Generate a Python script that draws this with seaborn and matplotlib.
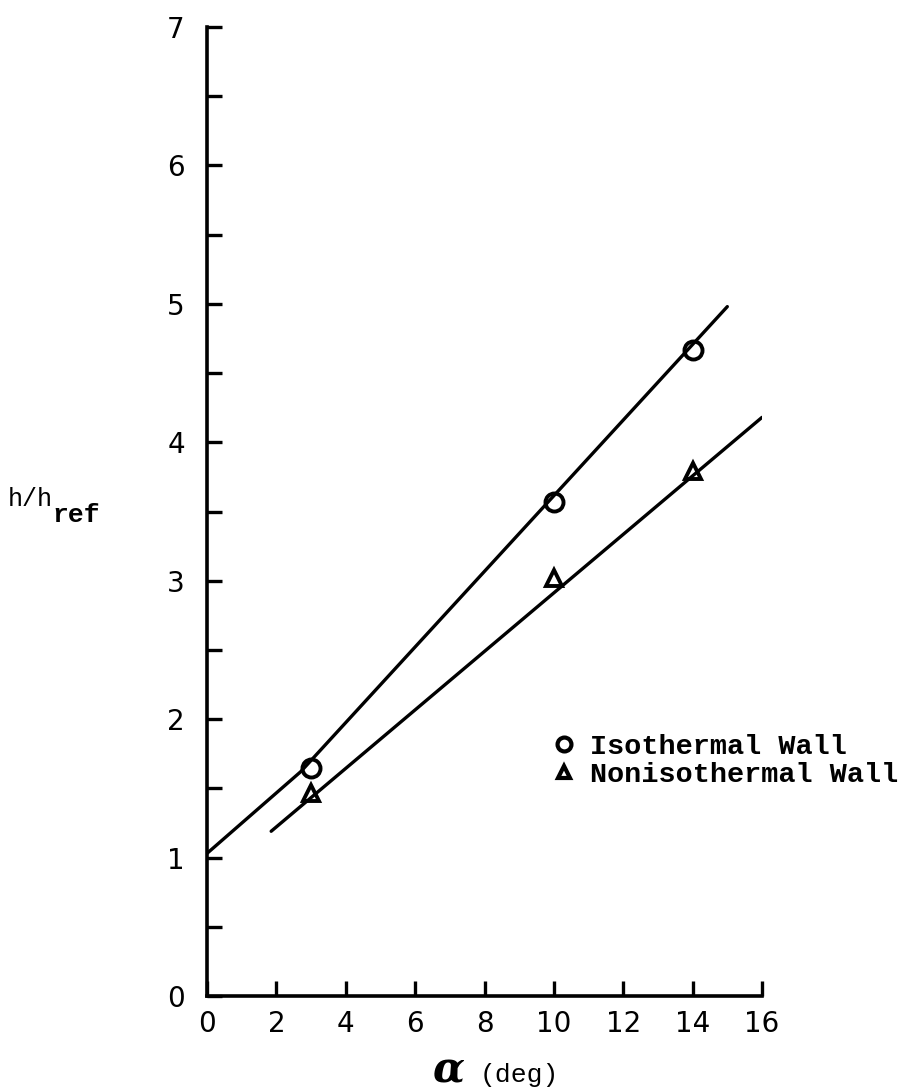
import numpy as np
import pandas as pd
import matplotlib
matplotlib.use("Agg")
import matplotlib.pyplot as plt
from matplotlib.lines import Line2D
import seaborn as sns

# Measured points
alpha_deg = [3, 10, 14]
iso_h = [1.65, 3.57, 4.67]
noniso_h = [1.47, 3.02, 3.79]

# Hand-fit lines through the points
iso_fit_x = [0.0, 2.7, 15.0]
iso_fit_y = [1.03, 1.62, 4.98]
noniso_fit_x = [1.85, 16.0]
noniso_fit_y = [1.19, 4.18]

wall_labels = ["Isothermal Wall", "Nonisothermal Wall"]

pts = pd.DataFrame({
    "alpha": alpha_deg * 2,
    "h": iso_h + noniso_h,
    "wall": [wall_labels[0]] * 3 + [wall_labels[1]] * 3,
})
fits = pd.DataFrame({
    "alpha": iso_fit_x + noniso_fit_x,
    "h": iso_fit_y + noniso_fit_y,
    "wall": [wall_labels[0]] * len(iso_fit_x) + [wall_labels[1]] * len(noniso_fit_x),
})

sns.set_style("ticks")
plt.rcParams["font.family"] = ["DejaVu Sans"]
plt.rcParams["text.color"] = "black"
plt.rcParams["xtick.labelcolor"] = "black"
plt.rcParams["ytick.labelcolor"] = "black"

fig = plt.figure(figsize=(9.19, 10.92), dpi=100)
ax = fig.add_axes([207 / 919, 1 - 996 / 1092, (762 - 207) / 919, (996 - 27) / 1092])

sns.lineplot(data=fits, x="alpha", y="h", units="wall", estimator=None, sort=False,
             color="black", linewidth=2.4, ax=ax, legend=False)

markers = {"Isothermal Wall": "o", "Nonisothermal Wall": "^"}
for name, m in markers.items():
    sub = pts[pts["wall"] == name]
    ax.plot(sub["alpha"], sub["h"], linestyle="none", marker=m, markersize=13 if m == "o" else 11,
            markerfacecolor="none", markeredgecolor="black", markeredgewidth=2.8)

ax.set_xlim(0, 16)
ax.set_ylim(0, 7)
ax.set_xticks(np.arange(0, 17, 2))
ax.set_yticks(np.arange(0, 8, 1))
ax.set_yticks(np.arange(0.5, 7, 1), minor=True)

for s in ["top", "right"]:
    ax.spines[s].set_visible(False)
for s in ["left", "bottom"]:
    ax.spines[s].set_linewidth(2.6)
    ax.spines[s].set_color("black")

ax.tick_params(axis="both", which="both", direction="in", width=2.4, color="black",
               labelcolor="black")
ax.tick_params(axis="y", which="both", length=11, pad=16, labelsize=20)
ax.tick_params(axis="x", which="major", length=10.5, pad=10, labelsize=20)
ax.set_xlabel("")
ax.set_ylabel("")

mono = "Liberation Mono"
# y label
fig.text(8 / 919, 1 - 506 / 1092, "h/h", fontsize=18, family=mono, va="baseline")
fig.text(52 / 919, 1 - 522 / 1092, "ref", fontsize=19, family=mono, weight="bold", va="baseline")

# x label
fig.text(448 / 919, 1 - 1082 / 1092, "\u03b1", fontsize=30, va="baseline", ha="center",
         family="DejaVu Serif", style="italic", weight="bold")
fig.text(480 / 919, 1 - 1082 / 1092, "(deg)", fontsize=19, family=mono, va="baseline")

handles = [Line2D([], [], linestyle="none", marker=markers[n], markerfacecolor="none",
                  markeredgecolor="black", markeredgewidth=3,
                  markersize=10 if markers[n] == "o" else 9) for n in wall_labels]
ax.legend(handles, wall_labels, loc="upper left", bbox_to_anchor=(553 / 919, 1 - 734 / 1092),
          bbox_transform=fig.transFigure, frameon=False, handlelength=0.8, handletextpad=0.5,
          borderpad=0, borderaxespad=0, labelspacing=0.08,
          prop={"family": mono, "size": 20.5, "weight": "bold"})

fig.savefig("out.png", dpi=100)
